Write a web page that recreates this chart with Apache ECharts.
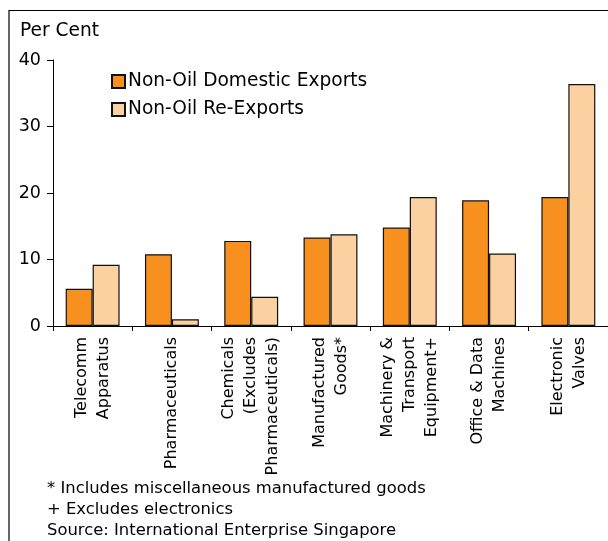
<!DOCTYPE html>
<html>
<head>
<meta charset="utf-8">
<script src="https://cdn.jsdelivr.net/npm/echarts@6/dist/echarts.min.js"></script>
<style>
html,body{margin:0;padding:0;background:#fff;}
#c{width:608px;height:541px;}
</style>
</head>
<body>
<div id="c"></div>
<script>
var categories = [
  "Telecomm\nApparatus",
  "Pharmaceuticals",
  "Chemicals\n(Excludes\nPharmaceuticals)",
  "Manufactured\nGoods*",
  "Machinery &\nTransport\nEquipment+",
  "Office & Data\nMachines",
  "Electronic\nValves"
];
var domesticExports = [5.6, 10.8, 12.8, 13.3, 14.8, 18.9, 19.4];
var reExports = [9.2, 1.0, 4.4, 13.8, 19.4, 10.9, 36.4];
var yTicks = [0, 10, 20, 30, 40];
var footnotes = [
  "* Includes miscellaneous manufactured goods",
  "+ Excludes electronics",
  "Source: International Enterprise Singapore"
];

var FONT = "DejaVu Sans";
var chart = echarts.init(document.getElementById('c'), null, {renderer: 'canvas'});
chart.setOption({
  animation: false,
  backgroundColor: '#fff',
  textStyle: {fontFamily: FONT, color: '#000'},
  grid: {left: 53, top: 60, right: -1, bottom: 215, containLabel: false},
  legend: {
    orient: 'vertical',
    left: 106, top: 67,
    itemWidth: 13, itemHeight: 13, itemGap: 9,
    textStyle: {fontFamily: FONT, fontSize: 18.6, color: '#000', padding: [0,0,0,-2]},
    data: ['Non-Oil Domestic Exports', 'Non-Oil Re-Exports'],
    icon: 'rect'
  },
  xAxis: {
    type: 'category',
    data: categories,
    axisLine: {lineStyle: {color: '#000', width: 1}},
    axisTick: {show: true, length: 5, alignWithLabel: false, lineStyle: {color: '#000'}},
    axisLabel: {rotate: 90, interval: 0, fontFamily: FONT, fontSize: 16, color: '#000', lineHeight: 22, margin: 11}
  },
  yAxis: {
    type: 'value',
    min: 0, max: 40, interval: 10,
    axisLine: {show: true, lineStyle: {color: '#000', width: 1}},
    axisTick: {show: true, length: 6, lineStyle: {color: '#000'}},
    splitLine: {show: false},
    axisLabel: {fontFamily: FONT, fontSize: 17.5, color: '#000', margin: 12,
      formatter: function (v) { return yTicks.indexOf(v) >= 0 ? String(v) : ''; }}
  },
  series: [
    {
      name: 'Non-Oil Domestic Exports', type: 'bar', data: domesticExports,
      barGap: '0%', barCategoryGap: '32%',
      itemStyle: {color: '#F7901E', borderColor: '#111', borderWidth: 1.2}
    },
    {
      name: 'Non-Oil Re-Exports', type: 'bar', data: reExports,
      barGap: '0%', barCategoryGap: '32%',
      itemStyle: {color: '#FCD1A2', borderColor: '#111', borderWidth: 1.2}
    }
  ],
  graphic: [
    {type: 'rect', shape: {x: 9, y: 10.5, width: 700, height: 700}, style: {fill: 'none', stroke: '#000', lineWidth: 1.2}, silent: true},
    {type: 'text', left: 20, top: 22, style: {text: 'Per Cent', font: '18.6px "DejaVu Sans"', fill: '#000'}},
    {type: 'text', left: 47, top: 478, style: {text: footnotes.join('\n'), font: '16.4px "DejaVu Sans"', lineHeight: 21, fill: '#000'}}
  ]
});
</script>
</body>
</html>
